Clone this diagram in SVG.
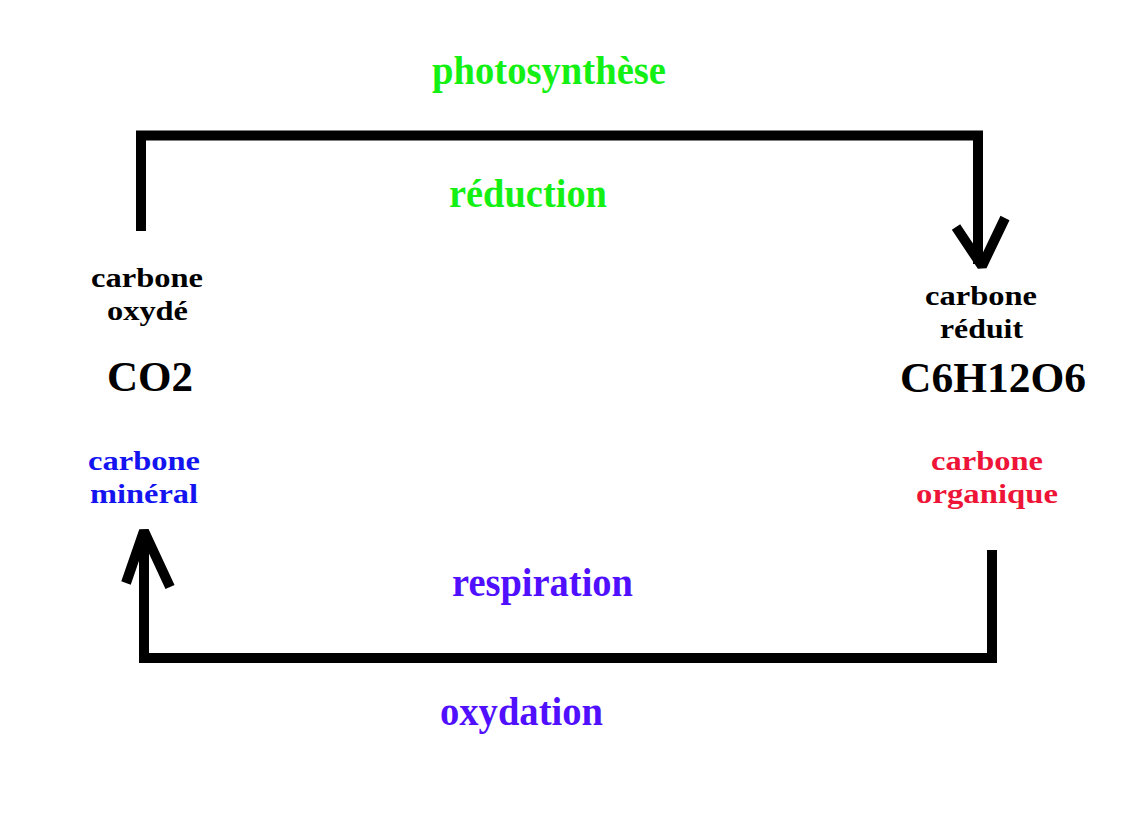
<svg xmlns="http://www.w3.org/2000/svg" width="1141" height="838" viewBox="0 0 1141 838">
<style>
.t{font-family:"Liberation Serif","Times New Roman",serif;font-weight:bold}
.s{font-size:27px}
.l{font-size:39px}
.f{font-size:43px}
.k{fill:#000}
.g{fill:#14f014}
.b{fill:#1414f0}
.r{fill:#ee1438}
.v{fill:#5010ff}
.c{fill:none;stroke:#000;stroke-width:10;stroke-linecap:butt;stroke-linejoin:miter}
.a{fill:none;stroke:#000;stroke-width:10;stroke-linecap:butt;stroke-linejoin:bevel}
</style>
<rect width="1141" height="838" fill="#fff"/>
<g id="connectors">
<path class="c" d="M141,231 V135.5 H978 V264"/>
<path class="a" d="M956,227 L982,266 L1005,218"/>
<path class="c" d="M992,550 V658 H144 V533"/>
<path class="a" d="M126,583 L144,531 L170,587"/>
</g>
<g id="label-photosynthese"><text class="t l g" x="432" y="84" textLength="234" lengthAdjust="spacingAndGlyphs">photosynthèse</text></g>
<g id="label-reduction"><text class="t l g" x="449" y="207" textLength="158" lengthAdjust="spacingAndGlyphs">réduction</text></g>
<g id="node-co2">
<text class="t s k" x="91" y="287" textLength="112" lengthAdjust="spacingAndGlyphs">carbone</text>
<text class="t s k" x="107" y="320" textLength="81" lengthAdjust="spacingAndGlyphs">oxydé</text>
<text class="t f k" x="107" y="391">CO2</text>
<text class="t s b" x="88" y="470" textLength="112" lengthAdjust="spacingAndGlyphs">carbone</text>
<text class="t s b" x="90" y="503" textLength="108" lengthAdjust="spacingAndGlyphs">minéral</text>
</g>
<g id="node-glucose">
<text class="t s k" x="925" y="305" textLength="112" lengthAdjust="spacingAndGlyphs">carbone</text>
<text class="t s k" x="940" y="338" textLength="83" lengthAdjust="spacingAndGlyphs">réduit</text>
<text class="t f k" x="900" y="392" textLength="186" lengthAdjust="spacingAndGlyphs">C6H12O6</text>
<text class="t s r" x="931" y="470" textLength="112" lengthAdjust="spacingAndGlyphs">carbone</text>
<text class="t s r" x="916" y="503" textLength="142" lengthAdjust="spacingAndGlyphs">organique</text>
</g>
<g id="label-respiration"><text class="t l v" x="452" y="596" textLength="181" lengthAdjust="spacingAndGlyphs">respiration</text></g>
<g id="label-oxydation"><text class="t l v" x="440" y="725" textLength="163" lengthAdjust="spacingAndGlyphs">oxydation</text></g>
</svg>
